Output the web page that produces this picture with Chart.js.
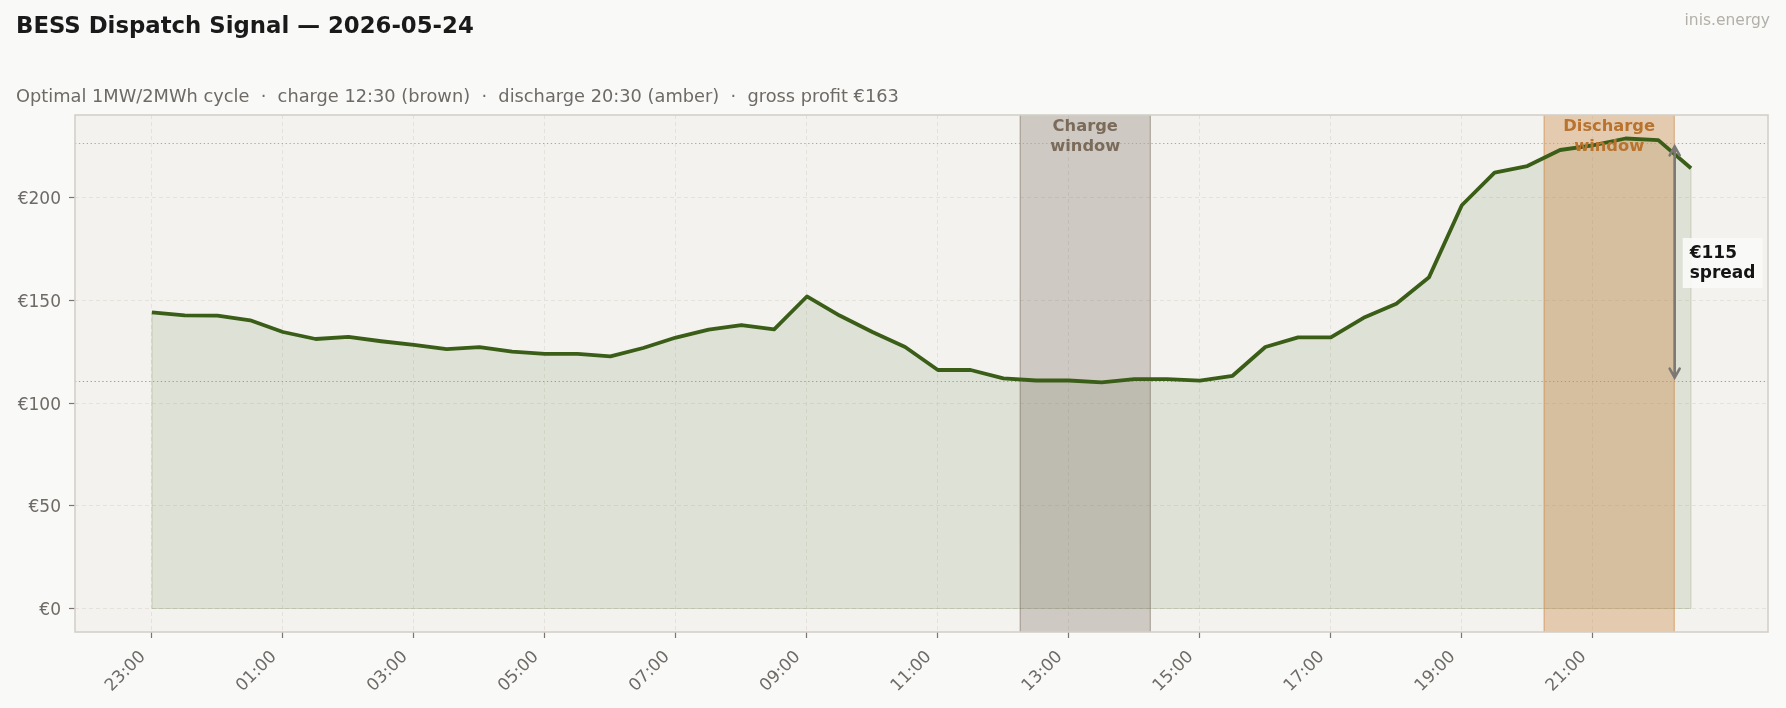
<!DOCTYPE html>
<html>

<head>
    <meta charset="utf-8">
    <title>BESS Dispatch Signal</title>
    <script src="https://cdn.jsdelivr.net/npm/chart.js"></script>
    <style>
        html,
        body {
            margin: 0;
            padding: 0;
            background: #f9f9f7;
        }

        #wrap {
            position: relative;
            width: 1786px;
            height: 708px;
            font-family: "DejaVu Sans", sans-serif;
        }

        #myChart {
            position: absolute;
            left: 0;
            top: 0;
        }

        .txt {
            position: absolute;
            line-height: 1;
            white-space: pre;
            z-index: 2;
        }

        #title {
            left: 16px;
            top: 14px;
            font-size: 22.8px;
            font-weight: bold;
            color: #1a1a1a;
        }

        #subtitle {
            left: 16px;
            top: 87px;
            font-size: 17.8px;
            color: #6e6a66;
        }

        #brand {
            right: 16px;
            top: 13px;
            font-size: 15.5px;
            color: #b3afaa;
        }
    </style>
</head>

<body>
    <div id="wrap">
        <div id="title" class="txt">BESS Dispatch Signal — 2026-05-24</div>
        <div id="subtitle" class="txt">Optimal 1MW/2MWh cycle  ·  charge 12:30 (brown)  ·  discharge 20:30 (amber)  ·  gross profit €163</div>
        <div id="brand" class="txt">inis.energy</div>
        <canvas id="myChart" width="1786" height="708"></canvas>
    </div>

    <script>
        // half-hourly day-ahead prices, 23:00 -> 22:30
        const slotTimes = ["23:00", "23:30", "00:00", "00:30", "01:00", "01:30", "02:00", "02:30",
            "03:00", "03:30", "04:00", "04:30", "05:00", "05:30", "06:00", "06:30",
            "07:00", "07:30", "08:00", "08:30", "09:00", "09:30", "10:00", "10:30",
            "11:00", "11:30", "12:00", "12:30", "13:00", "13:30", "14:00", "14:30",
            "15:00", "15:30", "16:00", "16:30", "17:00", "17:30", "18:00", "18:30",
            "19:00", "19:30", "20:00", "20:30", "21:00", "21:30", "22:00", "22:30"];
        const prices = [144.2, 142.7, 142.6, 140.3, 134.6, 131.2, 132.2, 130.1,
            128.3, 126.3, 127.2, 125.0, 124.0, 124.0, 122.7, 126.8,
            131.9, 135.8, 138.0, 135.9, 151.9, 142.6, 134.6, 127.3,
            116.1, 116.1, 112.0, 111.0, 111.0, 110.1, 111.7, 111.7,
            110.9, 113.3, 127.3, 132.0, 132.0, 141.5, 148.4, 161.3,
            196.3, 212.2, 215.4, 223.2, 225.5, 228.8, 228.0, 214.3];
        const tickLabels = ["23:00", "01:00", "03:00", "05:00", "07:00", "09:00",
            "11:00", "13:00", "15:00", "17:00", "19:00", "21:00"];
        const yTicks = [0, 50, 100, 150, 200];

        const chargeStart = "12:30";
        const dischargeStart = "20:30";
        const windowSlots = 4; // 2MWh at 1MW = 4 half hours

        // hours since first slot
        const hrs = i => i * 0.5;
        const points = prices.map((p, i) => ({ x: hrs(i), y: p }));

        function windowSpan(t) {
            const i = slotTimes.indexOf(t);
            return [hrs(i) - 0.25, hrs(i + windowSlots - 1) + 0.25];
        }
        function windowAvg(t) {
            const i = slotTimes.indexOf(t);
            const s = prices.slice(i, i + windowSlots);
            return s.reduce((a, b) => a + b, 0) / s.length;
        }
        const chargeAvg = windowAvg(chargeStart);
        const dischargeAvg = windowAvg(dischargeStart);
        const spread = Math.round(dischargeAvg - chargeAvg);

        const windows = [
            { span: windowSpan(chargeStart), fill: 'rgba(100,84,68,0.26)', edge: 'rgba(110,95,80,0.45)', text: ['Charge', 'window'], color: '#7b6b5b' },
            { span: windowSpan(dischargeStart), fill: 'rgba(196,122,48,0.32)', edge: 'rgba(205,130,60,0.55)', text: ['Discharge', 'window'], color: '#b8732f' }
        ];

        const lastX = hrs(prices.length - 1);
        const xPad = lastX * 0.05;
        const maxP = Math.max(...prices);

        const decor = {
            id: 'decor',
            beforeDraw(chart) {
                const { ctx, chartArea: a } = chart;
                ctx.save();
                ctx.fillStyle = '#f3f2ee';
                ctx.fillRect(a.left, a.top, a.right - a.left, a.bottom - a.top);
                ctx.restore();
            },
            afterDatasetDraw(chart, args) {
                // runs once the filled area is down, before the price line
                if (args.index !== 0) return;
                const { ctx, chartArea: a, scales: { x, y } } = chart;
                const n = points.length - 1;
                ctx.save();
                ctx.strokeStyle = 'rgba(59,94,22,0.18)';
                ctx.lineWidth = 1;
                ctx.beginPath();
                ctx.moveTo(x.getPixelForValue(points[0].x), y.getPixelForValue(points[0].y));
                ctx.lineTo(x.getPixelForValue(points[0].x), y.getPixelForValue(0));
                ctx.lineTo(x.getPixelForValue(points[n].x), y.getPixelForValue(0));
                ctx.lineTo(x.getPixelForValue(points[n].x), y.getPixelForValue(points[n].y));
                ctx.stroke();

                windows.forEach(w => {
                    const x0 = x.getPixelForValue(w.span[0]);
                    const x1 = x.getPixelForValue(w.span[1]);
                    ctx.fillStyle = w.fill;
                    ctx.fillRect(x0, a.top, x1 - x0, a.bottom - a.top);
                    ctx.strokeStyle = w.edge;
                    ctx.beginPath();
                    ctx.moveTo(x0 + 0.5, a.top); ctx.lineTo(x0 + 0.5, a.bottom);
                    ctx.moveTo(x1 - 0.5, a.top); ctx.lineTo(x1 - 0.5, a.bottom);
                    ctx.stroke();
                });

                // average charge / discharge price levels
                ctx.lineWidth = 1.2;
                ctx.setLineDash([1.3, 2.6]);
                [[dischargeAvg, '#e39a62'], [chargeAvg, '#a39a90']].forEach(([v, c]) => {
                    const py = Math.round(y.getPixelForValue(v)) + 0.5;
                    ctx.strokeStyle = c;
                    ctx.beginPath();
                    ctx.moveTo(a.left, py);
                    ctx.lineTo(a.right, py);
                    ctx.stroke();
                });
                ctx.restore();
            },
            afterDatasetsDraw(chart) {
                const { ctx, chartArea: a, scales: { x, y } } = chart;
                ctx.save();
                // window labels
                ctx.font = 'bold 16.3px "DejaVu Sans"';
                ctx.textAlign = 'center';
                ctx.textBaseline = 'top';
                windows.forEach(w => {
                    const cx = (x.getPixelForValue(w.span[0]) + x.getPixelForValue(w.span[1])) / 2;
                    ctx.fillStyle = w.color;
                    ctx.fillText(w.text[0], cx, a.top + 4);
                    ctx.fillText(w.text[1], cx, a.top + 23.5);
                });

                // spread arrow at the end of the discharge window
                const ax = x.getPixelForValue(windows[1].span[1]);
                const yTop = y.getPixelForValue(dischargeAvg) + 3;
                const yBot = y.getPixelForValue(chargeAvg) - 3;
                ctx.strokeStyle = '#7d7873';
                ctx.lineWidth = 2.6;
                ctx.lineCap = 'round';
                ctx.beginPath();
                ctx.moveTo(ax, yTop); ctx.lineTo(ax, yBot);
                ctx.moveTo(ax - 5, yTop + 9); ctx.lineTo(ax, yTop); ctx.lineTo(ax + 5, yTop + 9);
                ctx.moveTo(ax - 5, yBot - 9); ctx.lineTo(ax, yBot); ctx.lineTo(ax + 5, yBot - 9);
                ctx.stroke();

                // spread label
                const mid = y.getPixelForValue((dischargeAvg + chargeAvg) / 2);
                const lines = ['€' + spread, 'spread'];
                ctx.font = 'bold 17px "DejaVu Sans"';
                const tw = Math.max(...lines.map(s => ctx.measureText(s).width));
                const bx = ax + 8;
                const bw = tw + 14;
                const bh = 50;
                ctx.fillStyle = 'rgba(250,249,247,0.9)';
                ctx.fillRect(bx, mid - bh / 2 + 1, bw, bh);
                ctx.fillStyle = '#141414';
                ctx.textAlign = 'left';
                ctx.textBaseline = 'middle';
                ctx.fillText(lines[0], bx + 7, mid - 8);
                ctx.fillText(lines[1], bx + 7, mid + 12);
                ctx.restore();
            },
            afterDraw(chart) {
                const { ctx, chartArea: a } = chart;
                ctx.save();
                ctx.strokeStyle = '#d4cfc8';
                ctx.lineWidth = 1.6;
                ctx.strokeRect(a.left, a.top, a.right - a.left, a.bottom - a.top);
                ctx.restore();
            }
        };

        const tickFont = { family: 'DejaVu Sans', size: 17 };

        const ctx = document.getElementById('myChart').getContext('2d');
        const chart = new Chart(ctx, {
            type: 'line',
            data: {
                datasets: [
                    {
                        label: 'area',
                        data: points,
                        fill: 'origin',
                        backgroundColor: 'rgba(59,94,22,0.11)',
                        borderWidth: 0,
                        pointRadius: 0,
                        order: 2
                    },
                    {
                        label: 'price',
                        data: points,
                        fill: false,
                        borderColor: '#3a5e17',
                        borderWidth: 3.8,
                        pointRadius: 0,
                        tension: 0,
                        borderJoinStyle: 'round',
                        order: 1
                    }
                ]
            },
            options: {
                responsive: false,
                animation: false,
                layout: {
                    padding: { top: 115, right: 18, left: 0, bottom: 0 }
                },
                plugins: {
                    legend: { display: false },
                    tooltip: { enabled: false }
                },
                scales: {
                    x: {
                        type: 'linear',
                        min: -xPad,
                        max: lastX + xPad,
                        afterFit: s => { s.height = 76; },
                        afterBuildTicks: s => {
                            s.ticks = tickLabels.map(l => ({ value: hrs(slotTimes.indexOf(l)) }));
                        },
                        ticks: {
                            font: tickFont,
                            color: '#6e6a66',
                            maxRotation: 45,
                            minRotation: 45,
                            padding: 9,
                            labelOffset: -9,
                            callback: v => tickLabels.find(l => hrs(slotTimes.indexOf(l)) === v)
                        },
                        grid: {
                            color: '#e5e2dc',
                            lineWidth: 1,
                            tickLength: 6,
                            tickColor: '#7b7671',
                            tickWidth: 1.2
                        },
                        border: { display: false, dash: [4, 3] }
                    },
                    y: {
                        min: -maxP * 0.05,
                        max: maxP * 1.05,
                        afterFit: s => { s.width = 75; },
                        afterBuildTicks: s => {
                            s.ticks = yTicks.map(v => ({ value: v }));
                        },
                        ticks: {
                            font: tickFont,
                            color: '#6e6a66',
                            padding: 8,
                            labelOffset: 2,
                            callback: v => '€' + v
                        },
                        grid: {
                            color: '#e5e2dc',
                            lineWidth: 1,
                            tickLength: 6,
                            tickColor: '#7b7671',
                            tickWidth: 1.2
                        },
                        border: { display: false, dash: [4, 3] }
                    }
                }
            },
            plugins: [decor]
        });
    </script>
</body>

</html>
